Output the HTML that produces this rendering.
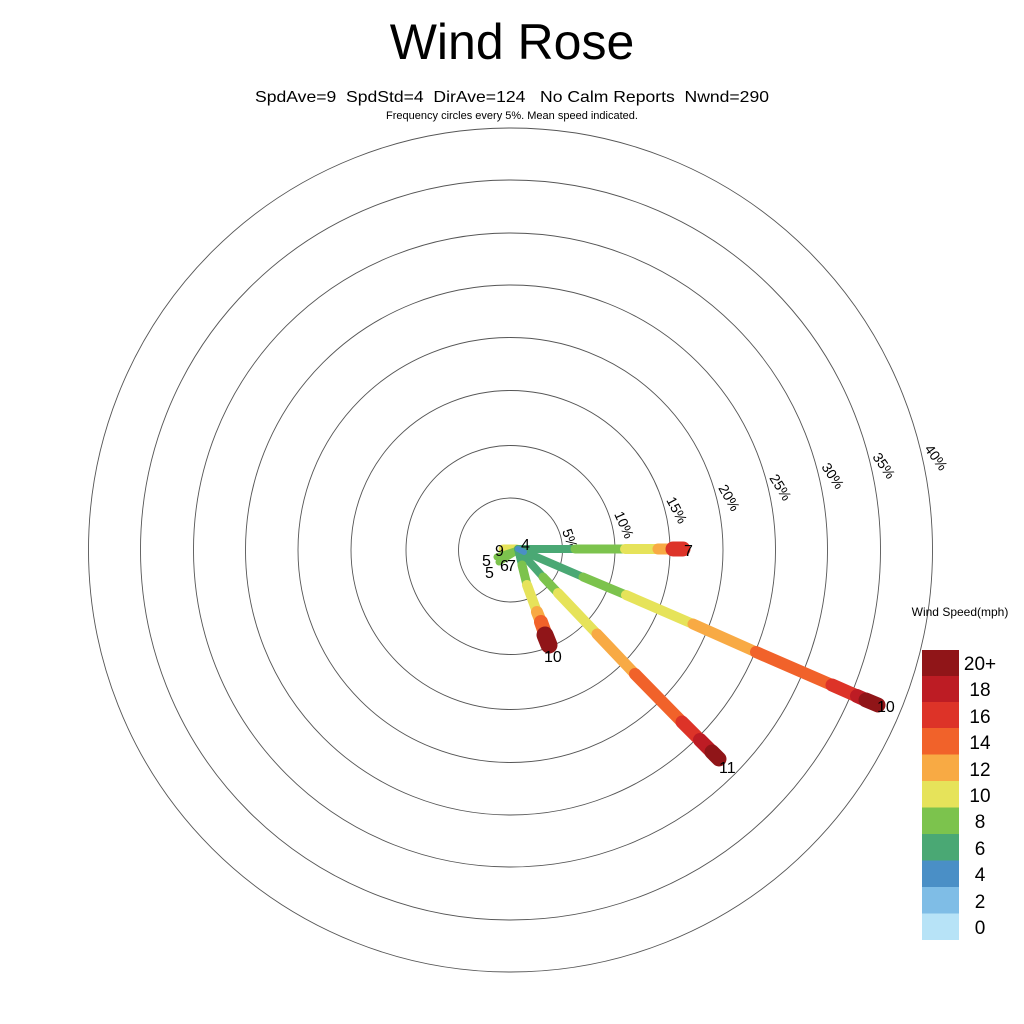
<!DOCTYPE html>
<html><head><meta charset="utf-8"><style>
html,body{margin:0;padding:0;background:#fff;}
svg{display:block;font-family:"Liberation Sans",sans-serif;}
</style></head><body>
<svg width="1024" height="1024" viewBox="0 0 1024 1024">
<rect width="1024" height="1024" fill="#fff"/>
<text x="512" y="59" font-size="50" text-anchor="middle">Wind Rose</text>
<text x="512" y="102" font-size="16" text-anchor="middle" style="white-space:pre" textLength="514" lengthAdjust="spacingAndGlyphs">SpdAve=9  SpdStd=4  DirAve=124   No Calm Reports  Nwnd=290</text>
<text x="512" y="119" font-size="11" text-anchor="middle">Frequency circles every 5%. Mean speed indicated.</text>
<g fill="none" stroke="#555" stroke-width="0.9">
<circle cx="510.5" cy="550" r="52"/>
<circle cx="510.5" cy="550" r="104.5"/>
<circle cx="510.5" cy="550" r="159.5"/>
<circle cx="510.5" cy="550" r="212.5"/>
<circle cx="510.5" cy="550" r="265"/>
<circle cx="510.5" cy="550" r="317"/>
<circle cx="510.5" cy="550" r="370"/>
<circle cx="510.5" cy="550" r="422"/>
</g>
<g font-size="14" fill="#000">
<text transform="translate(562,531) rotate(70)">5%</text>
<text transform="translate(614,514) rotate(66)">10%</text>
<text transform="translate(666,500) rotate(62)">15%</text>
<text transform="translate(718,488) rotate(60)">20%</text>
<text transform="translate(769,478) rotate(58)">25%</text>
<text transform="translate(821,467) rotate(56)">30%</text>
<text transform="translate(872,457) rotate(55)">35%</text>
<text transform="translate(924,449) rotate(54)">40%</text>
</g>
<g stroke-linecap="round" fill="none">
<line x1="517" y1="549" x2="503" y2="549" stroke="#e6e35a" stroke-width="9"/>
<line x1="515" y1="551" x2="497" y2="557" stroke="#7cc34d" stroke-width="7"/>
<line x1="515" y1="552" x2="499" y2="562" stroke="#7cc34d" stroke-width="7"/>
<line x1="518" y1="549" x2="575" y2="549" stroke="#4aa874" stroke-width="8"/>
<line x1="575" y1="549" x2="625" y2="549" stroke="#7cc34d" stroke-width="9"/>
<line x1="625" y1="549" x2="658" y2="549" stroke="#e6e35a" stroke-width="10"/>
<line x1="658" y1="549" x2="673" y2="549" stroke="#f8aa44" stroke-width="11"/>
<line x1="673" y1="549" x2="683" y2="549" stroke="#dd3328" stroke-width="15"/>
<line x1="518" y1="549" x2="583" y2="577" stroke="#4aa874" stroke-width="8"/>
<line x1="583" y1="577" x2="626" y2="595" stroke="#7cc34d" stroke-width="9"/>
<line x1="626" y1="595" x2="693" y2="624" stroke="#e6e35a" stroke-width="10"/>
<line x1="693" y1="624" x2="756" y2="652" stroke="#f8aa44" stroke-width="11"/>
<line x1="756" y1="652" x2="832" y2="685" stroke="#f1622a" stroke-width="12"/>
<line x1="832" y1="685" x2="857" y2="696" stroke="#dd3328" stroke-width="13"/>
<line x1="857" y1="696" x2="866" y2="700" stroke="#bd1c24" stroke-width="14"/>
<line x1="866" y1="700" x2="878" y2="705" stroke="#901518" stroke-width="15"/>
<line x1="518" y1="549" x2="543" y2="577" stroke="#4aa874" stroke-width="8"/>
<line x1="543" y1="577" x2="558" y2="593" stroke="#7cc34d" stroke-width="9"/>
<line x1="558" y1="593" x2="597" y2="634" stroke="#e6e35a" stroke-width="10"/>
<line x1="597" y1="634" x2="635" y2="674" stroke="#f8aa44" stroke-width="11"/>
<line x1="635" y1="674" x2="682" y2="722" stroke="#f1622a" stroke-width="12"/>
<line x1="682" y1="722" x2="700" y2="740" stroke="#dd3328" stroke-width="13"/>
<line x1="700" y1="740" x2="712" y2="752" stroke="#bd1c24" stroke-width="14"/>
<line x1="712" y1="752" x2="719" y2="759" stroke="#901518" stroke-width="15"/>
<line x1="518" y1="549" x2="522" y2="565" stroke="#4aa874" stroke-width="8"/>
<line x1="522" y1="565" x2="527" y2="585" stroke="#7cc34d" stroke-width="9"/>
<line x1="527" y1="585" x2="537" y2="612" stroke="#e6e35a" stroke-width="10"/>
<line x1="537" y1="612" x2="541" y2="622" stroke="#f8aa44" stroke-width="12"/>
<line x1="541" y1="622" x2="545" y2="633" stroke="#f1622a" stroke-width="14"/>
<line x1="545" y1="635" x2="549" y2="645" stroke="#901518" stroke-width="17"/>
<line x1="518" y1="549" x2="524" y2="552" stroke="#4a8fc6" stroke-width="6"/>
</g>
<g font-size="16" fill="#000">
<text x="521" y="550">4</text>
<text x="495" y="556">9</text>
<text x="482" y="566">5</text>
<text x="485" y="578">5</text>
<text x="500" y="571">6</text>
<text x="507" y="571">7</text>
<text x="684" y="556">7</text>
<text x="544" y="662">10</text>
<text x="719" y="773">11</text>
<text x="877" y="712">10</text>
</g>
<text x="960" y="616" font-size="12" text-anchor="middle">Wind Speed(mph)</text>
<g>
<rect x="922" y="650" width="37" height="26.5" fill="#901518"/>
<rect x="922" y="676" width="37" height="26.5" fill="#bd1c24"/>
<rect x="922" y="702" width="37" height="26.5" fill="#dd3328"/>
<rect x="922" y="728" width="37" height="26.5" fill="#f1622a"/>
<rect x="922" y="754.5" width="37" height="26.5" fill="#f8aa44"/>
<rect x="922" y="781" width="37" height="26.5" fill="#e6e35a"/>
<rect x="922" y="807.5" width="37" height="26.5" fill="#7cc34d"/>
<rect x="922" y="834" width="37" height="26.5" fill="#4aa874"/>
<rect x="922" y="860.5" width="37" height="26.5" fill="#4a8fc6"/>
<rect x="922" y="887" width="37" height="26.5" fill="#7fbde6"/>
<rect x="922" y="913.5" width="37" height="26.5" fill="#b7e3f7"/>
</g>
<g font-size="19" fill="#000" text-anchor="middle">
<text x="980" y="670">20+</text>
<text x="980" y="696">18</text>
<text x="980" y="723">16</text>
<text x="980" y="749">14</text>
<text x="980" y="776">12</text>
<text x="980" y="802">10</text>
<text x="980" y="828">8</text>
<text x="980" y="855">6</text>
<text x="980" y="881">4</text>
<text x="980" y="908">2</text>
<text x="980" y="934">0</text>
</g>
</svg>
</body></html>
